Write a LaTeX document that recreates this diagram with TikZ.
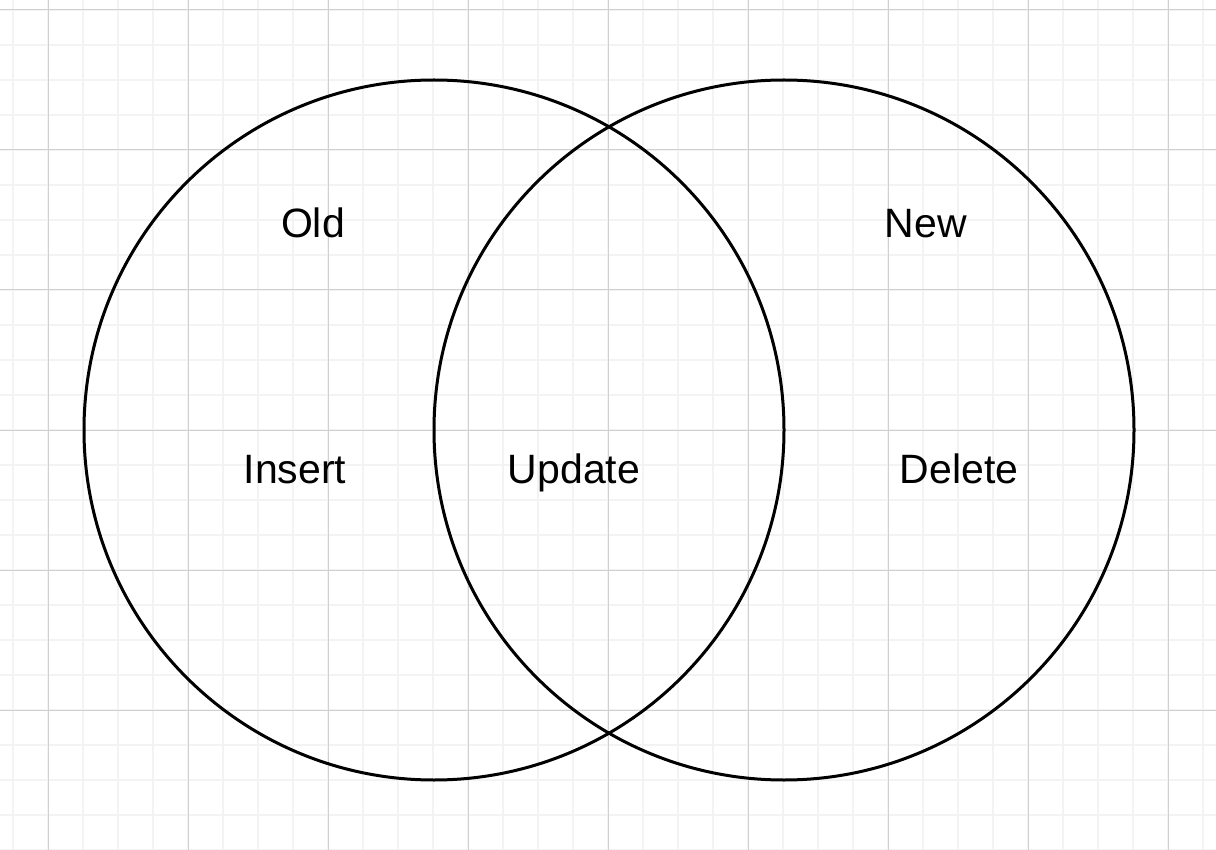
\documentclass[tikz,border=0pt]{standalone}
\usepackage{fontspec}
\setmainfont{Liberation Sans}
\definecolor{minorgrid}{HTML}{F3F3F3}
\definecolor{majorgrid}{HTML}{D0D0D0}
\begin{document}
\begin{tikzpicture}[x=1pt,y=-1pt,
  setcircle/.style={draw=black,line width=3pt,circle,minimum size=700pt,inner sep=0pt},
  label/.style={font=\fontsize{41}{45}\selectfont,inner sep=0pt,text=black,
    text height=29.4pt,text depth=0pt}]
  % canvas and background grid
  \useasboundingbox (0,0) rectangle (1216,850);
  \fill[white] (0,0) rectangle (1216,850);
  \foreach \x in {13,48,...,1216} \draw[minorgrid,line width=1.2pt] (\x,0) -- (\x,850);
  \foreach \y in {10,45,...,850} \draw[minorgrid,line width=1.2pt] (0,\y) -- (1216,\y);
  \foreach \x in {48,188,...,1216} \draw[majorgrid,line width=1pt] (\x,0) -- (\x,850);
  \foreach \y in {10,150,...,850} \draw[majorgrid,line width=1pt] (0,\y) -- (1216,\y);
  % the two sets
  \node[setcircle] (old) at (434,430) {};
  \node[setcircle] (new) at (784,430) {};
  % labels
  \node[label] (oldlbl) at (313,223) {Old};
  \node[label] (newlbl) at (926,223) {New};
  \node[label] (ins) at (295,468.5) {Insert};
  \node[label] (upd) at (574,468.5) {Update};
  \node[label] (del) at (959,468.5) {Delete};
\end{tikzpicture}
\end{document}
